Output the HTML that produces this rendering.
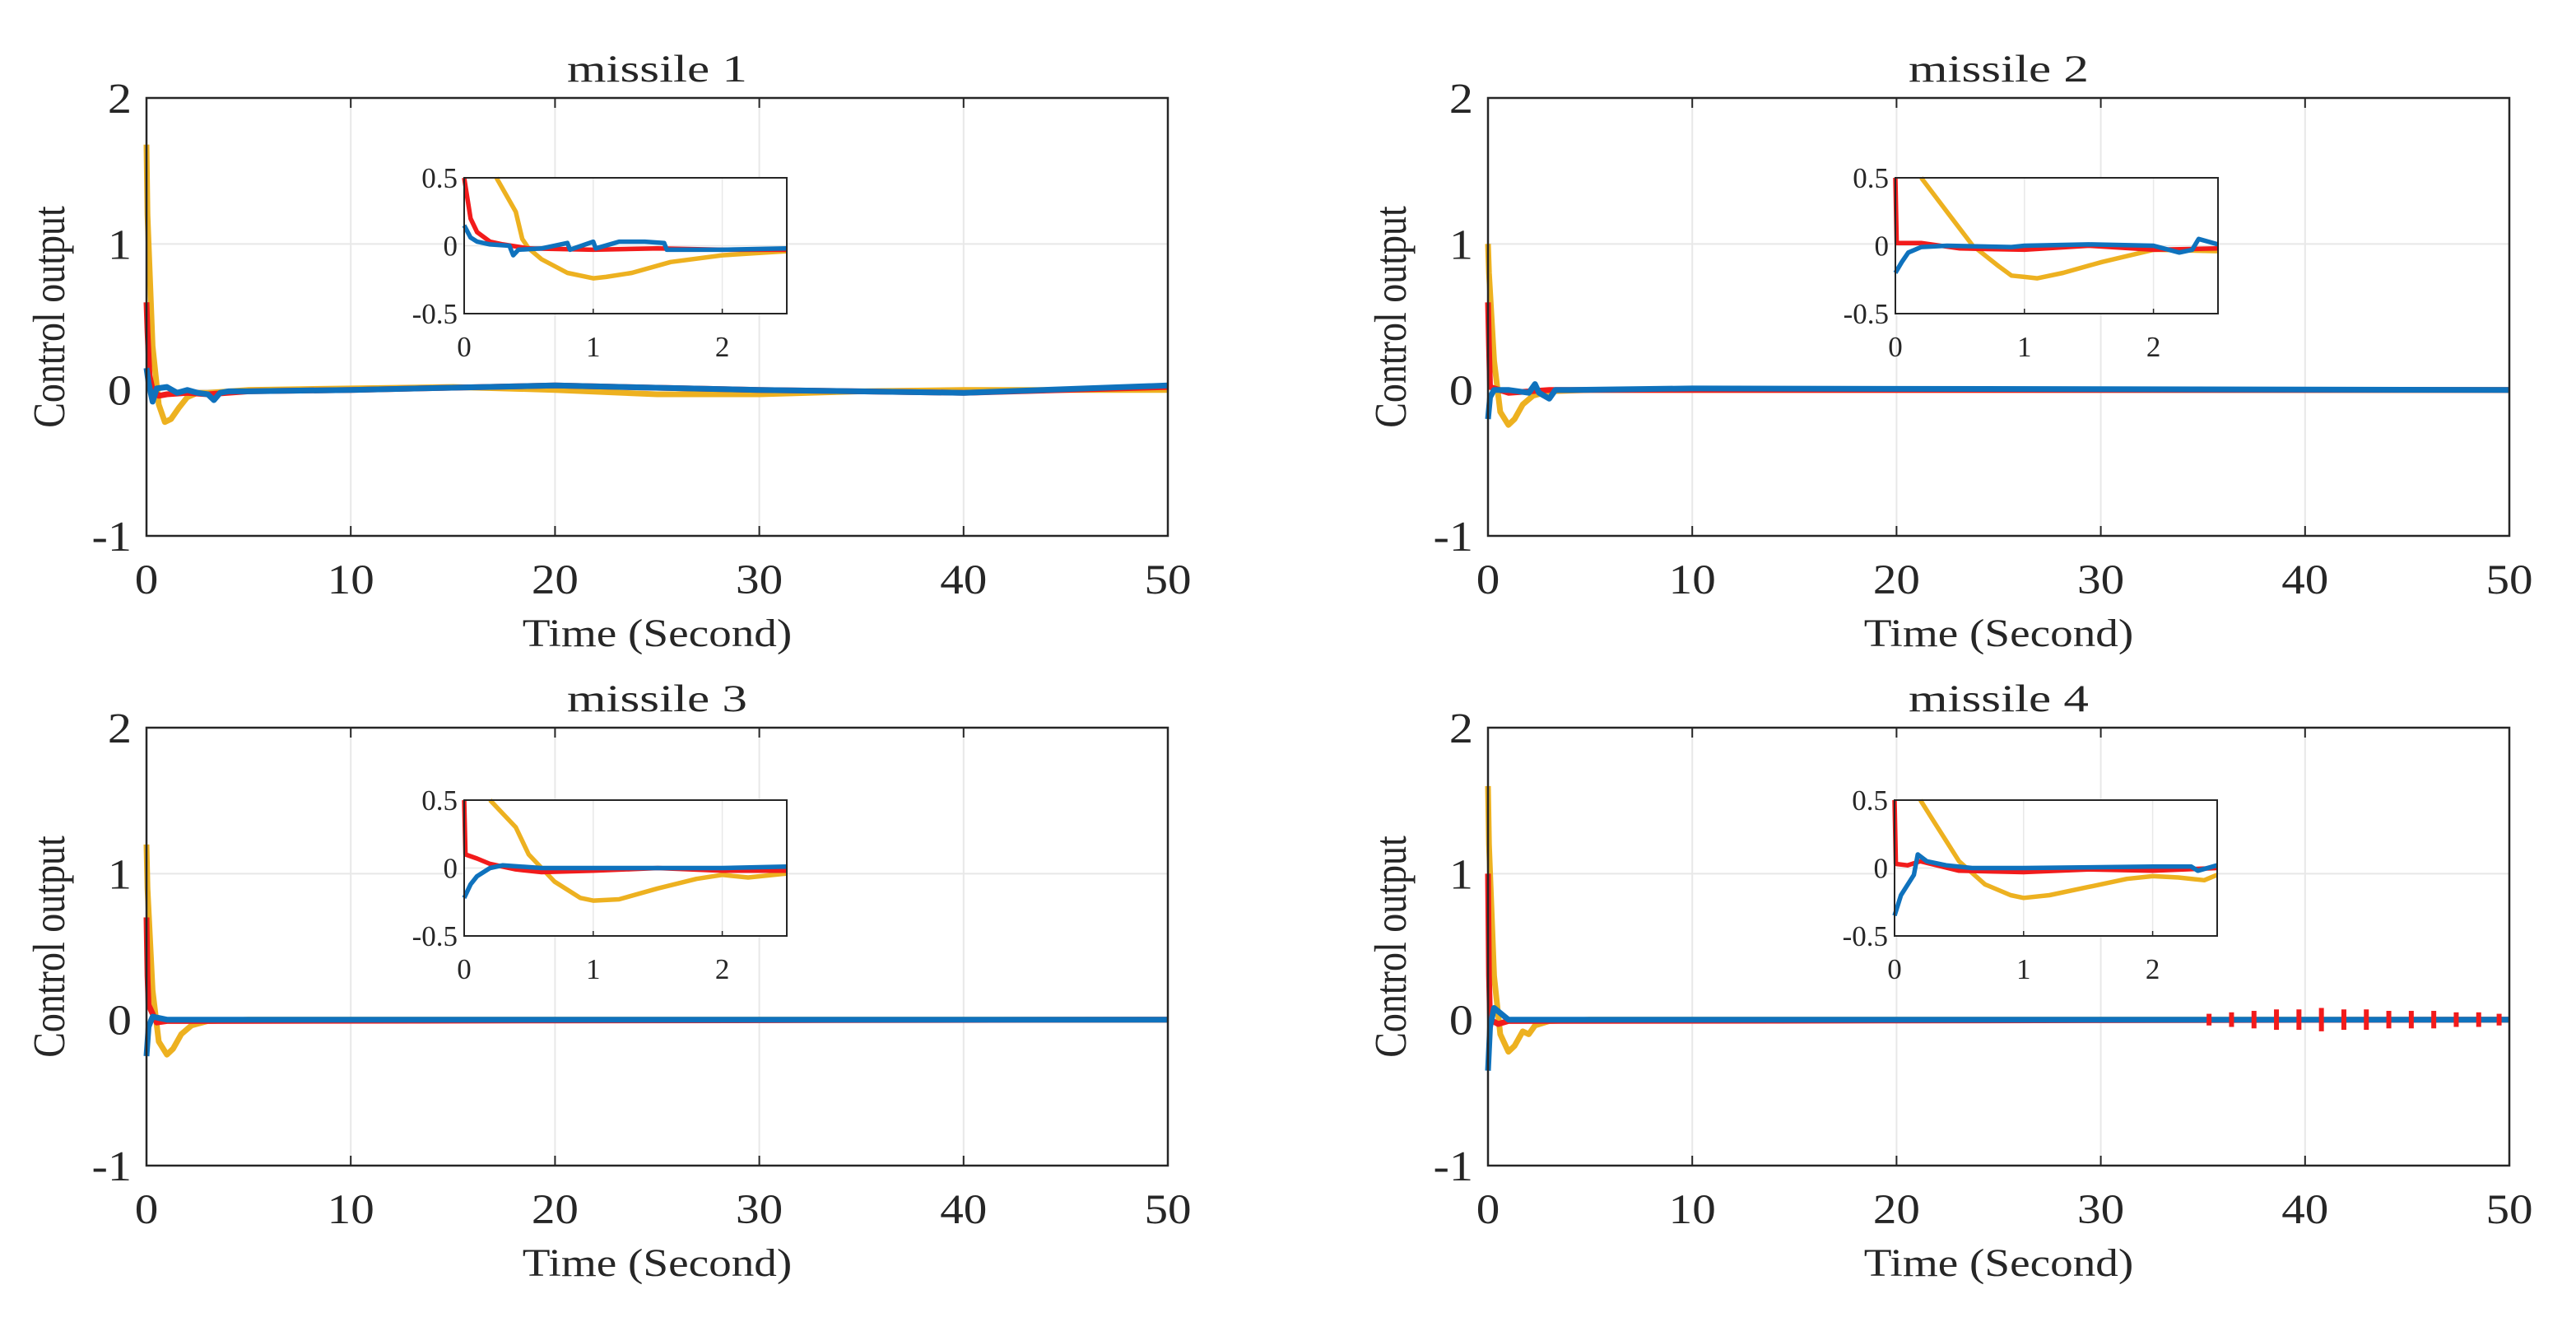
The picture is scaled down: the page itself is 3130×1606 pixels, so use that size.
<!DOCTYPE html>
<html><head><meta charset="utf-8"><style>
html,body{margin:0;padding:0;background:#fff;}
svg{display:block;}
text{font-family:"Liberation Serif",serif;fill:#262626;}
</style></head><body>
<svg id="fig" width="3130" height="1606" viewBox="0 0 3130 1606" xmlns="http://www.w3.org/2000/svg"></svg>
<script>
// ---------- data ----------
const mainXTicks = [0,10,20,30,40,50];
const mainYTicks = [-1,0,1,2];
const insetXTicks = [0,1,2];
const insetYTicks = [-0.5,0,0.5];
const titles = ["missile 1","missile 2","missile 3","missile 4"];

// panel 1
const p1YelT = [0,0.05,0.3,0.6,0.9,1.2,1.6,2,2.5,3,5,10,15,20,25,30,35,40,45,50];
const p1YelV = [1.68,1.2,0.3,-0.1,-0.22,-0.2,-0.12,-0.05,-0.02,-0.02,0,0.01,0.02,0.0,-0.03,-0.03,-0.01,0,0,0];
const p1RedT = [0,0.05,0.15,0.3,0.6,1,2,3,5,10,20,30,40,50];
const p1RedV = [0.6,0.4,0.1,0,-0.04,-0.03,-0.02,-0.03,-0.01,0,0.03,0,-0.02,0.02];
const p1BluT = [0,0.1,0.3,0.5,1,1.5,2,2.5,3,3.3,3.6,4,5,10,20,30,40,50];
const p1BluV = [0.15,0.05,-0.08,0.01,0.02,-0.02,0,-0.02,-0.03,-0.07,-0.02,-0.01,-0.01,0,0.03,0,-0.02,0.03];
const i1YelT = [0.25,0.4,0.45,0.5,0.6,0.8,1,1.1,1.3,1.6,2,2.5];
const i1YelV = [0.5,0.25,0.05,-0.02,-0.1,-0.2,-0.24,-0.23,-0.2,-0.12,-0.07,-0.04];
const i1RedT = [0,0.05,0.1,0.2,0.3,0.5,1,1.5,2,2.5];
const i1RedV = [0.5,0.2,0.1,0.03,0.01,-0.02,-0.03,-0.02,-0.03,-0.03];
const i1BluT = [0,0.05,0.1,0.2,0.35,0.38,0.42,0.6,0.8,0.82,1,1.02,1.2,1.4,1.55,1.57,2,2.5];
const i1BluV = [0.15,0.06,0.03,0.01,0,-0.07,-0.03,-0.02,0.02,-0.03,0.03,-0.02,0.03,0.03,0.02,-0.03,-0.03,-0.02];

// panel 2
const p2YelT = [0,0.05,0.3,0.6,1,1.3,1.7,2.2,3,5,50];
const p2YelV = [1.0,0.8,0.2,-0.15,-0.24,-0.2,-0.1,-0.04,-0.01,0,0];
const p2RedT = [0,0.05,0.1,1,3,50];
const p2RedV = [0.6,0.3,0.02,-0.02,0,0];
const p2BluT = [0,0.1,0.3,1,2,2.3,2.5,3,3.3,4,10,50];
const p2BluV = [-0.2,-0.05,0,0,-0.02,0.04,-0.02,-0.06,0,0,0.01,0];
const i2YelT = [0.2,0.4,0.6,0.8,0.9,1,1.1,1.3,1.6,2,2.5];
const i2YelV = [0.5,0.25,0,-0.15,-0.22,-0.23,-0.24,-0.2,-0.12,-0.03,-0.04];
const i2RedT = [0,0.01,0.2,0.5,1,1.5,2,2.5];
const i2RedV = [0.5,0.02,0.02,-0.02,-0.03,0,-0.03,-0.02];
const i2BluT = [0,0.05,0.1,0.2,0.4,0.9,1,1.5,2,2.2,2.3,2.35,2.5];
const i2BluV = [-0.2,-0.12,-0.05,-0.01,0,-0.01,0,0.01,0,-0.05,-0.03,0.05,0.01];

// panel 3
const p3YelT = [0,0.05,0.3,0.6,1,1.3,1.7,2.2,3,5,50];
const p3YelV = [1.2,0.9,0.2,-0.15,-0.24,-0.2,-0.1,-0.04,-0.01,0,0];
const p3RedT = [0,0.05,0.1,0.5,1,50];
const p3RedV = [0.7,0.3,0.1,-0.02,-0.01,0];
const p3BluT = [0,0.1,0.3,1,50];
const p3BluV = [-0.25,-0.05,0.02,0,0];
const i3YelT = [0.2,0.4,0.5,0.6,0.7,0.9,1,1.2,1.5,1.8,2,2.2,2.5];
const i3YelV = [0.5,0.3,0.1,0,-0.1,-0.22,-0.24,-0.23,-0.15,-0.08,-0.05,-0.07,-0.04];
const i3RedT = [0,0.01,0.1,0.2,0.4,0.6,1,1.5,2,2.5];
const i3RedV = [0.5,0.1,0.07,0.03,-0.01,-0.03,-0.02,0,-0.02,-0.02];
const i3BluT = [0,0.05,0.1,0.2,0.3,0.6,1,2,2.5];
const i3BluV = [-0.22,-0.12,-0.06,0,0.02,0,0,0,0.01];

// panel 4
const p4YelT = [0,0.05,0.3,0.6,1,1.3,1.7,2,2.3,3,5,50];
const p4YelV = [1.6,1.2,0.3,-0.1,-0.22,-0.18,-0.08,-0.1,-0.04,-0.01,0,0];
const p4RedT = [0,0.05,0.1,0.5,1,50];
const p4RedV = [1.0,0.3,0,-0.03,-0.01,0];
const p4BluT = [0,0.1,0.3,1,50];
const p4BluV = [-0.35,-0.05,0.08,0,0];
const p4SpikeT = [35.3,36.4,37.5,38.6,39.7,40.8,41.9,43.0,44.1,45.2,46.3,47.4,48.5,49.5];
const p4SpikeA = [0.04,0.05,0.06,0.07,0.07,0.08,0.07,0.07,0.06,0.06,0.06,0.05,0.05,0.04];
const i4YelT = [0.2,0.3,0.4,0.5,0.7,0.9,1,1.2,1.5,1.8,2,2.2,2.4,2.5];
const i4YelV = [0.5,0.35,0.2,0.05,-0.12,-0.2,-0.22,-0.2,-0.14,-0.08,-0.06,-0.07,-0.09,-0.05];
const i4RedT = [0,0.01,0.1,0.2,0.5,1,1.5,2,2.5];
const i4RedV = [0.5,0.03,0.02,0.05,-0.02,-0.03,-0.01,-0.02,0];
const i4BluT = [0,0.05,0.15,0.18,0.25,0.4,0.6,1,2,2.3,2.35,2.5];
const i4BluV = [-0.35,-0.2,-0.05,0.1,0.05,0.02,0,0,0.01,0.01,-0.02,0.02];

const YEL="#EDB120", RED="#F21B1B", BLU="#0F72BD";
const NS="http://www.w3.org/2000/svg";
const svg=document.getElementById('fig');
function el(tag,attrs,parent,txt){const e=document.createElementNS(NS,tag);for(const k in attrs)e.setAttribute(k,attrs[k]);if(txt!==undefined)e.textContent=txt;(parent||svg).appendChild(e);return e;}
function stext(x,y,size,sx,anchor,parent,txt){return el('text',{x:0,y:0,'font-size':size,'text-anchor':anchor,transform:`translate(${x},${y}) scale(${sx},1)`},parent,txt);}

const panels=[
 {x0:178,y0:119,title:titles[0],inOff:386,main:[[p1YelT,p1YelV,YEL],[p1RedT,p1RedV,RED],[p1BluT,p1BluV,BLU]],ins:[[i1YelT,i1YelV,YEL],[i1RedT,i1RedV,RED],[i1BluT,i1BluV,BLU]]},
 {x0:1808,y0:119,title:titles[1],inOff:495,main:[[p2YelT,p2YelV,YEL],[p2RedT,p2RedV,RED],[p2BluT,p2BluV,BLU]],ins:[[i2YelT,i2YelV,YEL],[i2RedT,i2RedV,RED],[i2BluT,i2BluV,BLU]]},
 {x0:178,y0:884,title:titles[2],inOff:386,main:[[p3YelT,p3YelV,YEL],[p3RedT,p3RedV,RED],[p3BluT,p3BluV,BLU]],ins:[[i3YelT,i3YelV,YEL],[i3RedT,i3RedV,RED],[i3BluT,i3BluV,BLU]]},
 {x0:1808,y0:884,title:titles[3],inOff:494,main:[[p4YelT,p4YelV,YEL],[p4RedT,p4RedV,RED],[p4BluT,p4BluV,BLU]],ins:[[i4YelT,i4YelV,YEL],[i4RedT,i4RedV,RED],[i4BluT,i4BluV,BLU]],spikes:true}
];
const W=1241,H=532, IW=392, IH=165;
const seriesNames=["yellow","red","blue"];

panels.forEach((p,pi)=>{
  const g=el('g',{});
  
  
  const sx=t=>p.x0+t/50*W, sy=v=>p.y0+(2-v)/3*H;
  el('rect',{x:p.x0,y:p.y0,width:W,height:H,fill:'#fff'},g);
  mainXTicks.forEach(t=>{if(t>0&&t<50){const l=el('line',{x1:sx(t),x2:sx(t),y1:p.y0,y2:p.y0+H,stroke:'#e8e8e8','stroke-width':2},g);}});
  mainYTicks.forEach(v=>{if(v>-1&&v<2){const l=el('line',{x1:p.x0,x2:p.x0+W,y1:sy(v),y2:sy(v),stroke:'#e8e8e8','stroke-width':2},g);}});
  p.main.forEach((s,si)=>{
    const pts=s[0].map((t,i)=>sx(t).toFixed(1)+','+sy(s[1][i]).toFixed(1)).join(' ');
    const pl=el('polyline',{points:pts,fill:'none',stroke:s[2],'stroke-width':7,'stroke-linejoin':'round'},g);
    
    
  });
  if(p.spikes){
    p4SpikeT.forEach((t,i)=>{
      const a=p4SpikeA[i];
      const l=el('line',{x1:sx(t),x2:sx(t),y1:sy(a),y2:sy(-a),stroke:RED,'stroke-width':6},g);
      
      
    });
  }
  const bx=el('rect',{x:p.x0,y:p.y0,width:W,height:H,fill:'none',stroke:'#262626','stroke-width':2.5},g);
  
  
  mainXTicks.forEach(t=>{
    el('line',{x1:sx(t),x2:sx(t),y1:p.y0+H,y2:p.y0+H-12,stroke:'#262626','stroke-width':2},g);
    el('line',{x1:sx(t),x2:sx(t),y1:p.y0,y2:p.y0+12,stroke:'#262626','stroke-width':2},g);
    const tx=stext(sx(t),p.y0+H+70,51,1.12,'middle',g,String(t));
    
    
  });
  mainYTicks.forEach(v=>{
    const tx=stext(p.x0-18,sy(v)+18,52,1.12,'end',g,String(v));
    
    
  });
  const ti=stext(p.x0+W/2,p.y0-20,47,1.3,'middle',g,p.title);
  
  
  const xl=stext(p.x0+W/2,p.y0+H+134,48,1.15,'middle',g,'Time (Second)');
  
  
  const yl=el('text',{x:0,y:0,'font-size':46,'text-anchor':'middle',transform:`translate(${p.x0-100},${p.y0+H/2}) rotate(-90) scale(1,1.2)`},g,'Control output');
  
  

  const ix=p.x0+p.inOff, iy=p.y0+(pi<2?97:88);
  const ig=el('g',{},g);
  
  
  const ux=t=>ix+t/2.5*IW, uy=v=>iy+(0.5-v)*IH;
  el('rect',{x:ix,y:iy,width:IW,height:IH,fill:'#fff'},ig);
  insetXTicks.forEach(t=>{if(t>0)el('line',{x1:ux(t),x2:ux(t),y1:iy,y2:iy+IH,stroke:'#e8e8e8','stroke-width':1.5},ig);});
  el('line',{x1:ix,x2:ix+IW,y1:uy(0),y2:uy(0),stroke:'#e8e8e8','stroke-width':1.5},ig);
  p.ins.forEach((s,si)=>{
    const pts=s[0].map((t,i)=>ux(t).toFixed(1)+','+uy(s[1][i]).toFixed(1)).join(' ');
    const pl=el('polyline',{points:pts,fill:'none',stroke:s[2],'stroke-width':5.5,'stroke-linejoin':'round'},ig);
    
    
  });
  el('rect',{x:ix,y:iy,width:IW,height:IH,fill:'none',stroke:'#262626','stroke-width':2},ig);
  insetXTicks.forEach(t=>{
    el('line',{x1:ux(t),x2:ux(t),y1:iy+IH,y2:iy+IH-6,stroke:'#262626','stroke-width':1.5},ig);
    const tx=stext(ux(t),iy+IH+52,35,1.0,'middle',ig,String(t));
    
    
  });
  insetYTicks.forEach(v=>{
    const tx=stext(ix-8,uy(v)+12,35,1.0,'end',ig,String(v));
    
    
  });
});
</script>
</body></html>
